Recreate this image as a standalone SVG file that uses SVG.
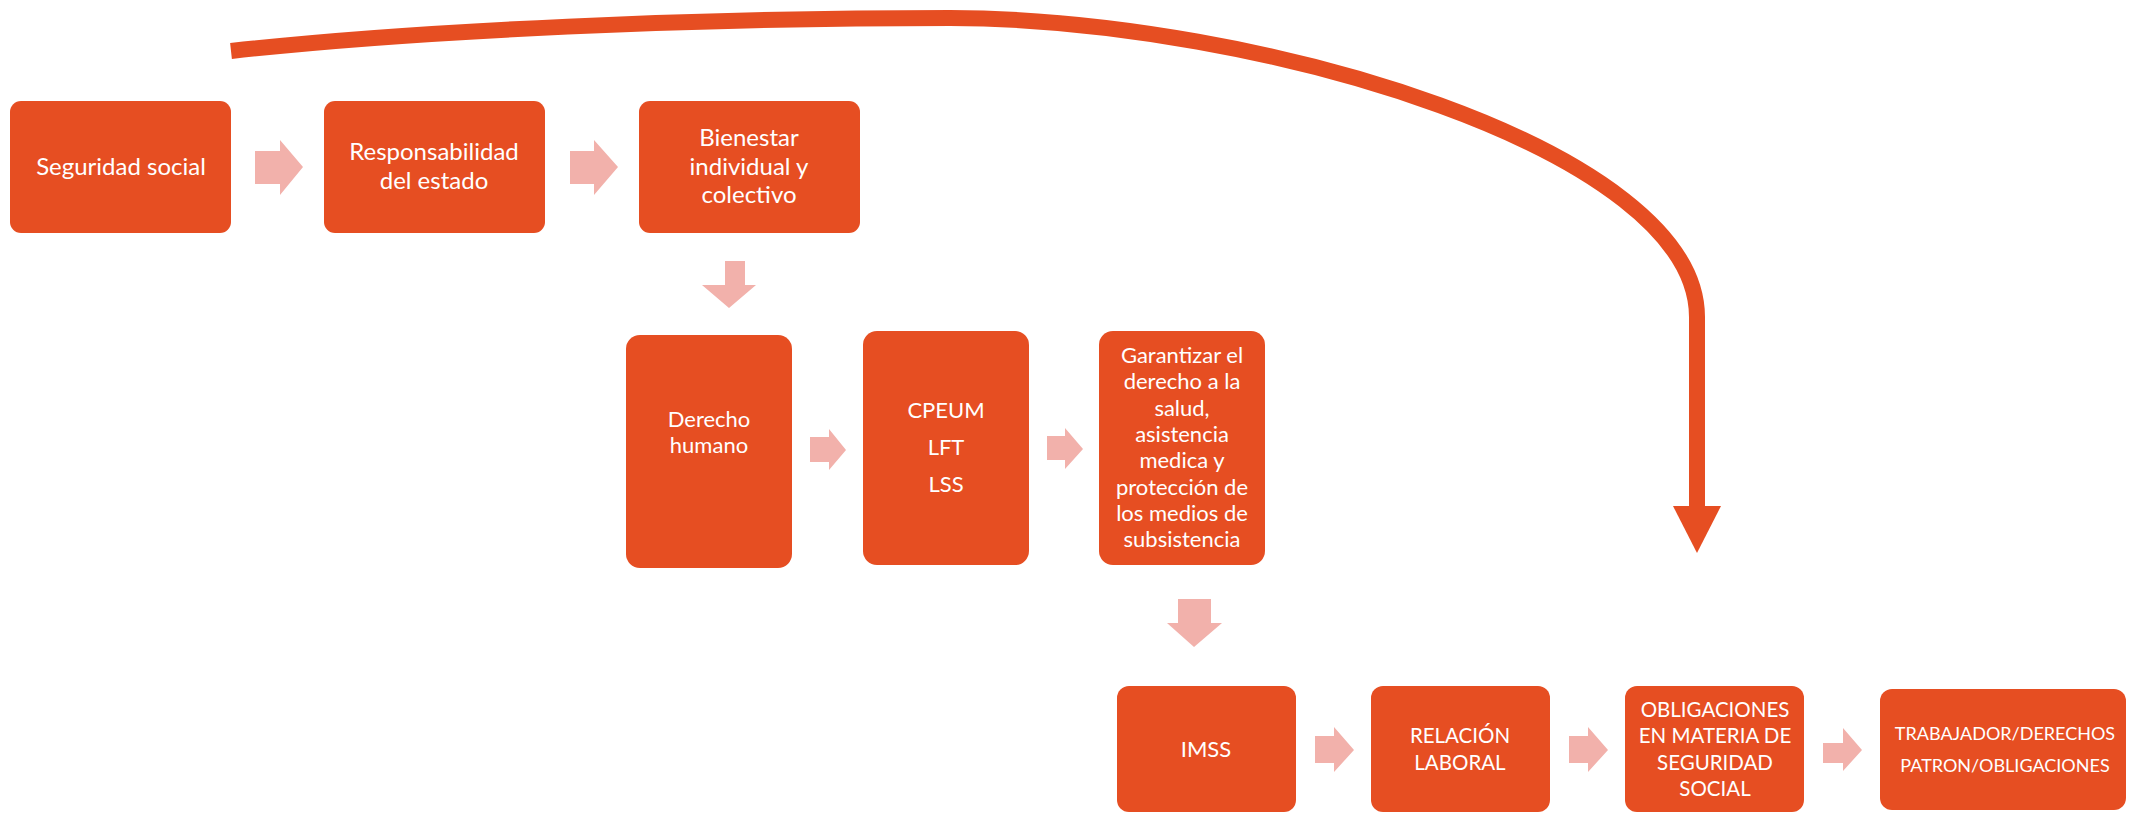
<svg xmlns="http://www.w3.org/2000/svg" width="2133" height="813" viewBox="0 0 2133 813">
<defs>
<style>
.node{fill:#E64E22;}
.t{fill:#FFFFFF;font-family:Lato,"Open Sans","Liberation Sans",sans-serif;text-anchor:middle;}
.t24{font-size:24px;}
.t22{font-size:22px;}
.t21{font-size:20.5px;}
.t18{font-size:18px;}
.flow{fill:#F2B1AB;}
.big{fill:none;stroke:#E64E22;stroke-width:16;}
</style>
</defs>
<rect width="2133" height="813" fill="#FFFFFF"/>

<g id="connectors">
<path class="big" d="M231,51 C420,30 700,18 950,18 C1260,19 1697,150 1697,317 L1697,510"/>
<polygon fill="#E64E22" points="1673,506 1721,506 1697,553"/>
<polygon class="flow" points="255,151 280,151 280,140 303,167 280,195 280,184 255,184"/>
<polygon class="flow" points="570,151 594,151 594,140 618,167 594,195 594,184 570,184"/>
<polygon class="flow" points="725,261 745,261 745,285 756,285 729,308 702,285 725,285"/>
<polygon class="flow" points="810,437 829,437 829,429 846,450 829,470 829,462 810,462"/>
<polygon class="flow" points="1047,436 1065,436 1065,428 1083,449 1065,469 1065,460 1047,460"/>
<polygon class="flow" points="1178,599 1211,599 1211,623 1222,623 1194,647 1167,623 1178,623"/>
<polygon class="flow" points="1315,736 1334,736 1334,727 1354,750 1334,772 1334,763 1315,763"/>
<polygon class="flow" points="1569,736 1588,736 1588,727 1608,750 1588,772 1588,763 1569,763"/>
<polygon class="flow" points="1823,743 1843,743 1843,728 1862,750 1843,771 1843,763 1823,763"/>
</g>

<g id="n1">
<rect class="node" x="10" y="101" width="221" height="132" rx="11"/>
<text class="t t24" x="121" y="175">Seguridad social</text>
</g>
<g id="n2">
<rect class="node" x="324" y="101" width="221" height="132" rx="11"/>
<text class="t t24" x="434" y="160">Responsabilidad</text>
<text class="t t24" x="434" y="189">del estado</text>
</g>
<g id="n3">
<rect class="node" x="639" y="101" width="221" height="132" rx="11"/>
<text class="t t24" x="749" y="146">Bienestar</text>
<text class="t t24" x="749" y="175">individual y</text>
<text class="t t24" x="749" y="203">colectivo</text>
</g>
<g id="n4">
<rect class="node" x="626" y="335" width="166" height="233" rx="14"/>
<text class="t t22" x="709" y="427">Derecho</text>
<text class="t t22" x="709" y="453">humano</text>
</g>
<g id="n5">
<rect class="node" x="863" y="331" width="166" height="234" rx="14"/>
<text class="t t22" x="946" y="418">CPEUM</text>
<text class="t t22" x="946" y="455">LFT</text>
<text class="t t22" x="946" y="492">LSS</text>
</g>
<g id="n6">
<rect class="node" x="1099" y="331" width="166" height="234" rx="14"/>
<text class="t t22" x="1182" y="363">Garantizar el</text>
<text class="t t22" x="1182" y="389">derecho a la</text>
<text class="t t22" x="1182" y="416">salud,</text>
<text class="t t22" x="1182" y="442">asistencia</text>
<text class="t t22" x="1182" y="468">medica y</text>
<text class="t t22" x="1182" y="495">protección de</text>
<text class="t t22" x="1182" y="521">los medios de</text>
<text class="t t22" x="1182" y="547">subsistencia</text>
</g>
<g id="n7">
<rect class="node" x="1117" y="686" width="179" height="126" rx="12"/>
<text class="t t22" x="1206" y="757">IMSS</text>
</g>
<g id="n8">
<rect class="node" x="1371" y="686" width="179" height="126" rx="12"/>
<text class="t t21" x="1460" y="743">RELACIÓN</text>
<text class="t t21" x="1460" y="770">LABORAL</text>
</g>
<g id="n9">
<rect class="node" x="1625" y="686" width="179" height="126" rx="12"/>
<text class="t t21" x="1715" y="717">OBLIGACIONES</text>
<text class="t t21" x="1715" y="743">EN MATERIA DE</text>
<text class="t t21" x="1715" y="770">SEGURIDAD</text>
<text class="t t21" x="1715" y="796">SOCIAL</text>
</g>
<g id="n10">
<rect class="node" x="1880" y="689" width="246" height="121" rx="12"/>
<text class="t t18" x="2005" y="740">TRABAJADOR/DERECHOS</text>
<text class="t t18" x="2005" y="772">PATRON/OBLIGACIONES</text>
</g>
</svg>
